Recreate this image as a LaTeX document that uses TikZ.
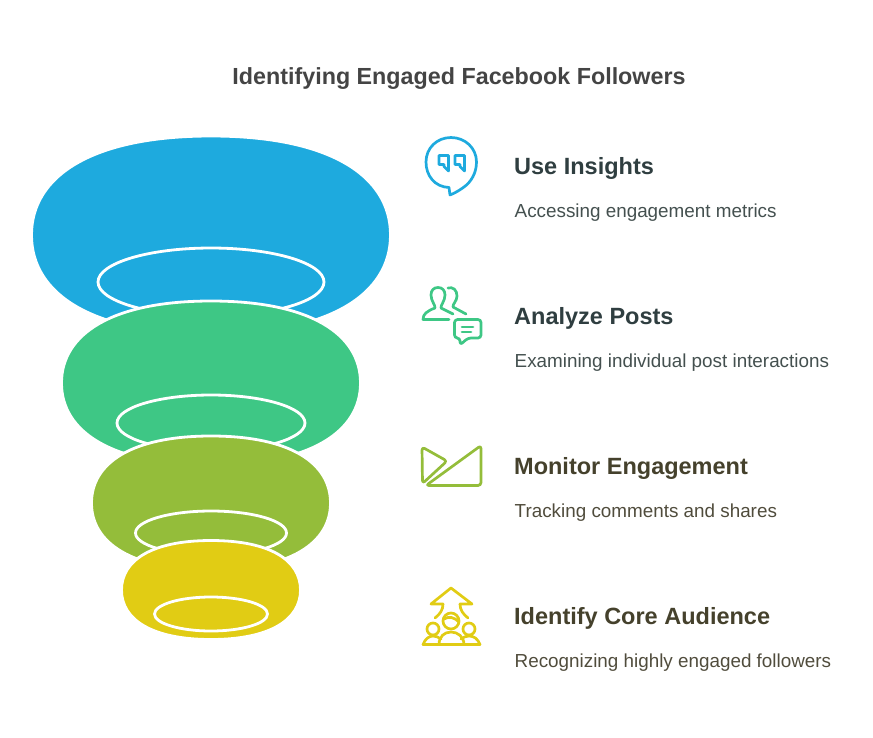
\documentclass[tikz,border=0pt]{standalone}
\usepackage{fontspec}
\setmainfont{Liberation Sans}
\usetikzlibrary{positioning}
\definecolor{skyblue}{HTML}{1EAADE}
\definecolor{leafgreen}{HTML}{3EC785}
\definecolor{olivegreen}{HTML}{94BD3A}
\definecolor{mustard}{HTML}{E1CC14}
\definecolor{titlegray}{HTML}{444444}
\definecolor{headteal}{HTML}{2F3E40}
\definecolor{headolive}{HTML}{45412C}
\definecolor{textteal}{HTML}{44504F}
\definecolor{textolive}{HTML}{504C3C}
\tikzset{
	headtext/.style={anchor=west,inner sep=0pt,font=\fontsize{23.5}{28}\selectfont\bfseries},
	desctext/.style={anchor=west,inner sep=0pt,font=\fontsize{18.85}{22}\selectfont},
	icon/.style={line width=2.7pt,line join=round,line cap=round}
}
\begin{document}
\begin{tikzpicture}[x=1pt,y=-1pt]
\useasboundingbox (0,0) rectangle (873,737);

\foreach\yc/\rx/\ry/\ringy/\ringx/\ringr/\col in {235/179.5/99/282/113/34/skyblue,383/149.5/82/423/94/28/leafgreen,503/119.5/67/533/75.5/22/olivegreen,590/89.5/49.5/614/56.5/17/mustard}{
	\draw[white,line width=2.8pt,fill=\col](211,\yc-\ry)
		.. controls (211-\rx*0.66,\yc-\ry) and (211-\rx,\yc-\ry*0.60) .. (211-\rx,\yc)
		.. controls (211-\rx,\yc+\ry*0.60) and (211-\rx*0.66,\yc+\ry) .. (211,\yc+\ry)
		.. controls (211+\rx*0.66,\yc+\ry) and (211+\rx,\yc+\ry*0.60) .. (211+\rx,\yc)
		.. controls (211+\rx,\yc-\ry*0.60) and (211+\rx*0.66,\yc-\ry) .. cycle;
	\draw[white,line width=2.8pt](211,\ringy) ellipse ({\ringx} and {\ringr});}

\node[anchor=center,inner sep=0pt,text=titlegray,font=\fontsize{23.3}{28}\selectfont\bfseries] (title) at (459,79){Identifying Engaged Facebook Followers};

\node[headtext,text=headteal] (insights) at (514,168){Use Insights};
\node[desctext,text=textteal] (insightsdesc) at (514.5,212.5){Accessing engagement metrics};
\node[headtext,text=headteal] (posts) at (514,318){Analyze Posts};
\node[desctext,text=textteal] (postsdesc) at (514.5,362.5){Examining individual post interactions};
\node[headtext,text=headolive] (engagement) at (514,468){Monitor Engagement};
\node[desctext,text=textolive] (engagementdesc) at (514.5,512.5){Tracking comments and shares};
\node[headtext,text=headolive] (audience) at (514,618){Identify Core Audience};
\node[desctext,text=textolive] (audiencedesc) at (514.5,662.5){Recognizing highly engaged followers};

% speech bubble
\draw[icon,skyblue](449,187.5) .. controls (435,187) and (426,176) .. (426,162)
	.. controls (426,148) and (437,137.5) .. (451,137.5)
	.. controls (465,137.5) and (476.5,148) .. (476.5,162)
	.. controls (476.5,173) and (471,182) .. (464,187)
	.. controls (460,190) and (455,193) .. (450,195) -- cycle;
\foreach\x in {0,16}{
	\draw[icon,skyblue](439+\x,155.5) -- (448.5+\x,155.5) -- (448.5+\x,171) -- (444+\x,166.5) -- (444+\x,164.5) -- (439+\x,164.5) -- cycle;}

% people and chat
\draw[icon,leafgreen](449,319.5) -- (423,319.5) .. controls (423,314) and (427,311) .. (435,308)
	.. controls (435.5,305) and (431,301) .. (431,295)
	.. controls (431,290) and (434,287.5) .. (438,287.5)
	.. controls (442,287.5) and (445,290) .. (445,295)
	.. controls (445,301) and (440.5,305) .. (441,308) -- (453,314);
\draw[icon,leafgreen](448,288) .. controls (453,286.5) and (457,290) .. (457,296)
	.. controls (457,301) and (452.5,304) .. (453,307) -- (466,314);
\draw[icon,leafgreen,rounded corners=3pt](454.5,319.5) -- (481,319.5) -- (481,338) -- (468,338) -- (460,345) -- (460,338) -- (454.5,338) -- cycle;
\draw[icon,leafgreen](462,327) -- (473,327);
\draw[icon,leafgreen](462,332) -- (471,332);

% envelope
\draw[icon,olivegreen,rounded corners=3pt](422,447) -- (447,461) -- (422.5,483.5) -- cycle;
\draw[icon,olivegreen,rounded corners=3pt](426,485.5) -- (481,445.5) -- (481,485.5) -- cycle;

% arrow and group
\draw[icon,mustard](443,604) -- (431,604) -- (451,588) -- (472,604) -- (460,604);
\draw[icon,mustard](443,604) .. controls (443,610) and (440,614) .. (435,618);
\draw[icon,mustard](460,604) .. controls (460,610) and (463,614) .. (468,618);
\draw[icon,mustard](451,621) circle (8);
\draw[icon,mustard](444,619) .. controls (449,616) and (454,617) .. (459,622);
\draw[icon,mustard](433,629) circle (6);
\draw[icon,mustard](469,629) circle (6);
\draw[icon,mustard](423,644.5) -- (480,644.5);
\draw[icon,mustard](439,644.5) .. controls (439,637) and (444,632) .. (451,632) .. controls (458,632) and (464,637) .. (464,644.5);
\draw[icon,mustard](423,644.5) .. controls (425,639) and (429,636) .. (433,636) .. controls (436,636) and (438,637) .. (441,639);
\draw[icon,mustard](480,644.5) .. controls (478,639) and (474,636) .. (469,636) .. controls (466,636) and (464,637) .. (461,639);
\end{tikzpicture}
\end{document}
